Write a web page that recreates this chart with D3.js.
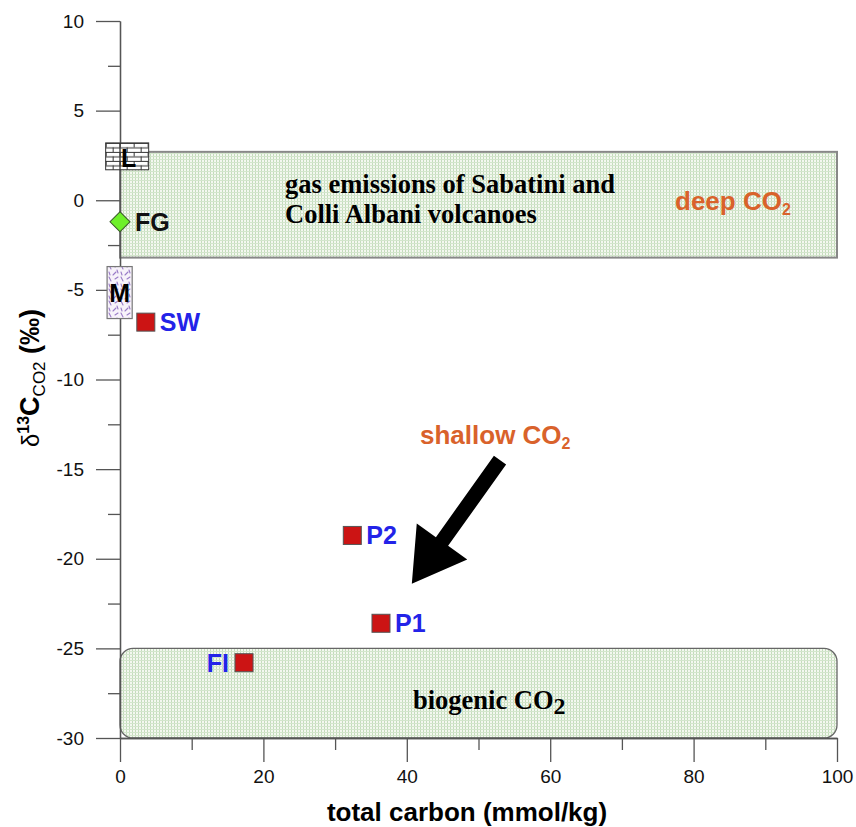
<!DOCTYPE html>
<html>
  <head>
    <meta charset="utf-8">
    <title>d13C vs total carbon</title>
    <script src="https://cdn.jsdelivr.net/npm/d3@7"></script>
    <style>
      body { margin: 0; background: #fff; }
      text { font-family: Arial, "Liberation Sans", sans-serif; }
      .serif { font-family: "Times New Roman", "Liberation Serif", serif; }
    </style>
  </head>
  <body>
    <svg id="chart"></svg>
    <script>
      'use strict';

      // samples (red squares)
      const sampleNames = ["SW", "P2", "P1", "FI"];
      const totalCarbon = [3.6, 32.4, 36.4, 17.3];
      const d13C = [-6.8, -18.7, -23.6, -25.8];

      // FG point (green diamond)
      const fgPoint = [0, -1.2];

      // reference fields: [x0, x1, y0, y1]
      const gasField = [0, 100, -3.2, 2.7];
      const bioField = [0, 100, -30, -25];
      const limestoneBox = [-2, 4, 1.7, 3.2];
      const mantleBox = [-1.8, 1.7, -6.6, -3.7];

      // arrow tail and tip, in data units
      const arrowTail = [53.0, -14.5];
      const arrowTip = [40.7, -21.4];

      // axis ticks
      const xTicks = [0, 20, 40, 60, 80, 100];
      const xMinor = [10, 30, 50, 70, 90];
      const yTicks = [10, 5, 0, -5, -10, -15, -20, -25, -30];
      const yMinor = [7.5, 2.5, -2.5, -7.5, -12.5, -17.5, -22.5, -27.5];

      const w = 856, h = 827;
      const svg = d3.select("#chart").attr("width", w).attr("height", h);

      const x = d3.scaleLinear().domain([0, 100]).range([120, 837]);
      const y = d3.scaleLinear().domain([-30, 10]).range([738, 21]);

      const orange = "#d9622b";
      const blue = "#2323e8";

      // fill patterns
      const defs = svg.append("defs");
      const grid = defs.append("pattern").attr("id", "grid")
        .attr("patternUnits", "userSpaceOnUse").attr("width", 3).attr("height", 3);
      grid.append("rect").attr("width", 3).attr("height", 3).attr("fill", "#f4f8f0");
      grid.append("rect").attr("width", 1).attr("height", 3).attr("fill", "#c4dcbc");
      grid.append("rect").attr("width", 3).attr("height", 1).attr("fill", "#d3e6cc");

      const brick = defs.append("pattern").attr("id", "brick")
        .attr("patternUnits", "userSpaceOnUse").attr("width", 14).attr("height", 9)
        .attr("x", x(limestoneBox[0])).attr("y", y(limestoneBox[3]));
      brick.append("rect").attr("width", 14).attr("height", 9).attr("fill", "#fff");
      brick.append("path")
        .attr("d", "M0,0.5H14M0,5H14M0.5,0V4.5M7.5,4.5V9")
        .attr("stroke", "#333").attr("stroke-width", 1).attr("fill", "none");

      const dash = defs.append("pattern").attr("id", "dash")
        .attr("patternUnits", "userSpaceOnUse").attr("width", 12).attr("height", 12);
      dash.append("rect").attr("width", 12).attr("height", 12).attr("fill", "#f7f2fa");
      dash.append("path")
        .attr("d", "M1,1L3,5M7,3L10,1M5,11L8,8M1,8L2,11M9,6L10,9")
        .attr("stroke", "#9a7cc8").attr("stroke-width", 1.1).attr("stroke-linecap", "round");

      // fields
      svg.append("rect")
        .attr("x", x(gasField[0])).attr("y", y(gasField[3]))
        .attr("width", x(gasField[1]) - x(gasField[0]))
        .attr("height", y(gasField[2]) - y(gasField[3]))
        .attr("fill", "url(#grid)").attr("stroke", "#888").attr("stroke-width", 2);

      svg.append("rect")
        .attr("x", x(bioField[0])).attr("y", y(bioField[3]))
        .attr("width", x(bioField[1]) - x(bioField[0]))
        .attr("height", y(bioField[2]) - y(bioField[3]))
        .attr("rx", 13).attr("ry", 13)
        .attr("fill", "url(#grid)").attr("stroke", "#666").attr("stroke-width", 1.3);

      // axes
      function styleAxis(g) {
        g.selectAll("path, line").attr("stroke", "#555").attr("stroke-width", 1.3);
        g.selectAll("text").attr("font-size", 19).attr("fill", "#111")
          .attr("font-family", "Arial, 'Liberation Sans', sans-serif");
      }
      const plain = function (d) { return String(d); };

      svg.append("g").attr("transform", "translate(0,738)")
        .call(d3.axisBottom(x).tickValues(xMinor).tickSize(12).tickSizeOuter(0).tickFormat(""))
        .call(styleAxis);
      svg.append("g").attr("transform", "translate(0,738)")
        .call(d3.axisBottom(x).tickValues(xTicks).tickSize(24).tickSizeOuter(0)
          .tickPadding(8).tickFormat(plain))
        .call(styleAxis);
      svg.append("g").attr("transform", "translate(120,0)")
        .call(d3.axisLeft(y).tickValues(yMinor).tickSize(12).tickSizeOuter(0).tickFormat(""))
        .call(styleAxis);
      svg.append("g").attr("transform", "translate(120,0)")
        .call(d3.axisLeft(y).tickValues(yTicks).tickSize(24).tickSizeOuter(0)
          .tickPadding(12).tickFormat(plain))
        .call(styleAxis);

      // limestone and mantle boxes
      svg.append("rect")
        .attr("x", x(limestoneBox[0])).attr("y", y(limestoneBox[3]))
        .attr("width", x(limestoneBox[1]) - x(limestoneBox[0]))
        .attr("height", y(limestoneBox[2]) - y(limestoneBox[3]))
        .attr("fill", "url(#brick)").attr("stroke", "#333").attr("stroke-width", 1);
      svg.append("line")
        .attr("x1", x(0)).attr("x2", x(0))
        .attr("y1", y(limestoneBox[3])).attr("y2", y(limestoneBox[2]))
        .attr("stroke", "#333").attr("stroke-width", 1.3);
      svg.append("text").attr("x", x(0) + 1).attr("y", y(limestoneBox[2]) - 3)
        .attr("font-size", 25).attr("font-weight", "bold").text("L");

      svg.append("rect")
        .attr("x", x(mantleBox[0])).attr("y", y(mantleBox[3]))
        .attr("width", x(mantleBox[1]) - x(mantleBox[0]))
        .attr("height", y(mantleBox[2]) - y(mantleBox[3]))
        .attr("fill", "url(#dash)").attr("stroke", "#777").attr("stroke-width", 1.2);
      svg.append("text")
        .attr("x", (x(mantleBox[0]) + x(mantleBox[1])) / 2)
        .attr("y", y((mantleBox[2] + mantleBox[3]) / 2) + 9)
        .attr("text-anchor", "middle")
        .attr("font-size", 25).attr("font-weight", "bold").text("M");

      // FG diamond
      svg.append("path")
        .attr("transform", "translate(" + x(fgPoint[0]) + "," + y(fgPoint[1]) + ") rotate(45)")
        .attr("d", d3.symbol(d3.symbolSquare, 200)())
        .attr("fill", "#6ef02a").attr("stroke", "#3a5a2a").attr("stroke-width", 1);
      svg.append("text").attr("x", x(fgPoint[0]) + 15).attr("y", y(fgPoint[1]) + 9)
        .attr("font-size", 25).attr("font-weight", "bold").attr("fill", "#111").text("FG");

      // samples
      const samples = sampleNames.map(function (n, i) {
        return { name: n, x: totalCarbon[i], y: d13C[i] };
      });
      svg.selectAll("rect.sample").data(samples).enter().append("rect")
        .attr("class", "sample")
        .attr("x", function (d) { return x(d.x) - 9; })
        .attr("y", function (d) { return y(d.y) - 9; })
        .attr("width", 18).attr("height", 18)
        .attr("fill", "#cc1414").attr("stroke", "#555").attr("stroke-width", 1);
      svg.selectAll("text.sample").data(samples).enter().append("text")
        .attr("class", "sample")
        .attr("x", function (d) { return d.name === "FI" ? x(d.x) - 15 : x(d.x) + 14; })
        .attr("y", function (d) { return y(d.y) + 9; })
        .attr("text-anchor", function (d) { return d.name === "FI" ? "end" : "start"; })
        .attr("font-size", 25).attr("font-weight", "bold").attr("fill", blue)
        .text(function (d) { return d.name; });

      // field labels
      const gasLabel = svg.append("text").attr("class", "serif")
        .attr("font-size", 26.5).attr("font-weight", "bold").attr("fill", "#000");
      gasLabel.append("tspan").attr("x", 285).attr("y", y(0.4)).text("gas emissions of Sabatini and");
      gasLabel.append("tspan").attr("x", 285).attr("y", y(0.4) + 30).text("Colli Albani volcanoes");

      function co2Label(tx, ty, prefix, color, size, subSize, cls) {
        const t = svg.append("text").attr("x", tx).attr("y", ty)
          .attr("font-size", size).attr("font-weight", "bold").attr("fill", color);
        if (cls) t.attr("class", cls);
        t.append("tspan").text(prefix + "CO");
        t.append("tspan").attr("dy", 5).attr("font-size", subSize).text("2");
        return t;
      }
      co2Label(675, y(-0.55), "deep ", orange, 26, 16);
      co2Label(420, 444, "shallow ", orange, 26, 16);
      co2Label(413, y(-28.4), "biogenic ", "#000", 26.5, 24, "serif");

      // arrow
      const ax0 = x(arrowTail[0]), ay0 = y(arrowTail[1]);
      const ax1 = x(arrowTip[0]), ay1 = y(arrowTip[1]);
      const len = Math.hypot(ax1 - ax0, ay1 - ay0);
      const ux = (ax1 - ax0) / len, uy = (ay1 - ay0) / len;
      const px = -uy, py = ux;
      const sw = 7.5, hw = 31, hl = 52;
      const bx = ax1 - ux * hl, by = ay1 - uy * hl;
      const pts = [
        [ax0 + px * sw, ay0 + py * sw],
        [bx + px * sw, by + py * sw],
        [bx + px * hw, by + py * hw],
        [ax1, ay1],
        [bx - px * hw, by - py * hw],
        [bx - px * sw, by - py * sw],
        [ax0 - px * sw, ay0 - py * sw]
      ];
      svg.append("path").attr("d", d3.line()(pts) + "Z").attr("fill", "#000");

      // axis titles
      svg.append("text").attr("x", 467).attr("y", 821)
        .attr("text-anchor", "middle").attr("font-size", 26).attr("font-weight", "bold")
        .text("total carbon (mmol/kg)");

      const yt = svg.append("text").attr("transform", "translate(39,378) rotate(-90)")
        .attr("text-anchor", "middle").attr("font-size", 27).attr("font-weight", "bold");
      yt.append("tspan").attr("font-weight", "normal").attr("font-size", 24).text("δ");
      yt.append("tspan").attr("dy", -10).attr("font-size", 16).text("13");
      yt.append("tspan").attr("dy", 10).text("C");
      yt.append("tspan").attr("dy", 6).attr("font-size", 17).attr("font-weight", "normal").text("CO2");
      yt.append("tspan").attr("dy", -6).text(" (‰)");
    </script>
  </body>
</html>
